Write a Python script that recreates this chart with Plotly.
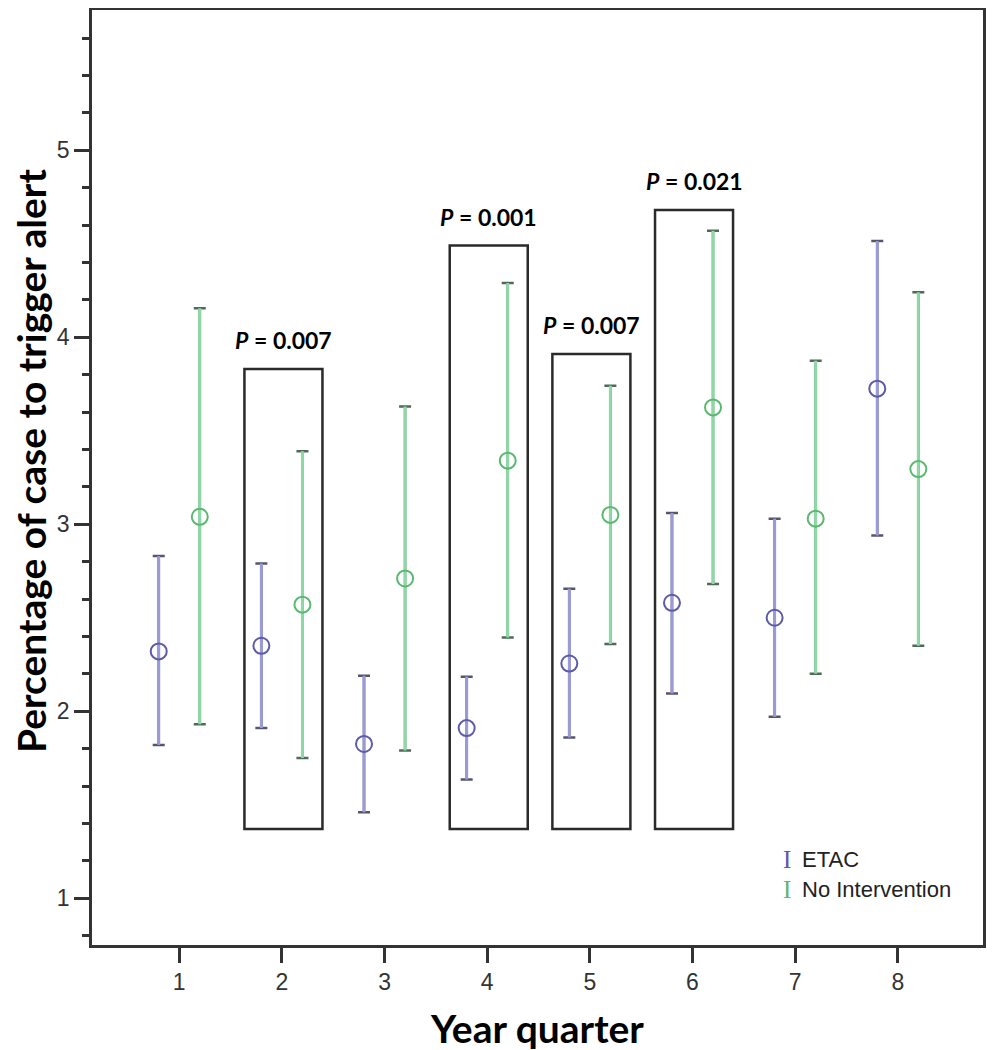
import plotly.graph_objects as go

# ---- data ----
quarters = [1, 2, 3, 4, 5, 6, 7, 8]
etac_mean = [2.32, 2.35, 1.825, 1.91, 2.255, 2.58, 2.50, 3.725]
etac_low = [1.82, 1.91, 1.46, 1.635, 1.86, 2.095, 1.97, 2.94]
etac_high = [2.83, 2.79, 2.19, 2.185, 2.655, 3.06, 3.03, 4.515]
noint_mean = [3.04, 2.57, 2.71, 3.34, 3.05, 3.625, 3.03, 3.295]
noint_low = [1.93, 1.75, 1.79, 2.395, 2.36, 2.68, 2.20, 2.35]
noint_high = [4.155, 3.39, 3.63, 4.29, 3.74, 4.57, 3.875, 4.24]
sig_quarters = [2, 4, 5, 6]
sig_pvalues = ["0.007", "0.001", "0.007", "0.021"]
sig_box_top = [3.83, 4.49, 3.91, 4.68]
sig_box_bottom = 1.37
series_names = ["ETAC", "No Intervention"]
y_ticks = [1, 2, 3, 4, 5]

# ---- styling ----
OFFSET = 0.2
C_ETAC_LINE = "#9a9ad8"
C_ETAC_MARK = "#5b5ba8"
C_ETAC_CAP = "#55556e"
C_NO_LINE = "#8dd9a6"
C_NO_MARK = "#5ab870"
C_NO_CAP = "#4f6b58"

PAGE = 8  # default page margin around the figure
W, H = 994 - PAGE, 1050 - PAGE
L, R, T = 92 - PAGE, 11, 10 - PAGE
B = H - T - 935
pw, ph = W - L - R, H - T - B


def px_x(x):
    return (x - PAGE - L) / pw


def px_y(y):
    return 1 - (y - PAGE - T) / ph


fig = go.Figure()


def add_series(xs, mean, low, high, line_c, mark_c, cap_c, name):
    plus = [h - m for h, m in zip(high, mean)]
    minus = [m - l for m, l in zip(mean, low)]
    fig.add_trace(go.Scatter(
        x=xs, y=mean, mode="markers", marker=dict(size=1, opacity=0),
        error_y=dict(type="data", array=plus, arrayminus=minus, symmetric=False,
                     color=cap_c, thickness=2.5, width=6),
        showlegend=False, hoverinfo="skip"))
    fig.add_trace(go.Scatter(
        x=xs, y=mean, mode="markers", name=name,
        marker=dict(symbol="circle-open", size=16, color=mark_c, line=dict(width=2, color=mark_c)),
        error_y=dict(type="data", array=plus, arrayminus=minus, symmetric=False,
                     color=line_c, thickness=3, width=0),
        showlegend=False))


add_series([q - OFFSET for q in quarters], etac_mean, etac_low, etac_high,
           C_ETAC_LINE, C_ETAC_MARK, C_ETAC_CAP, series_names[0])
add_series([q + OFFSET for q in quarters], noint_mean, noint_low, noint_high,
           C_NO_LINE, C_NO_MARK, C_NO_CAP, series_names[1])

for q, p, top in zip(sig_quarters, sig_pvalues, sig_box_top):
    fig.add_shape(type="rect", x0=q - 0.365, x1=q + 0.395, y0=sig_box_bottom, y1=top,
                  xref="x", yref="y", line=dict(color="#2a2a2a", width=2.5),
                  fillcolor="rgba(0,0,0,0)")
    fig.add_annotation(x=q + 0.015, y=top, xref="x", yref="y", yshift=29,
                       xanchor="center", yanchor="middle",
                       text="<i>P</i> = " + p, showarrow=False,
                       font=dict(family="Lato", size=23, color="black", weight="bold"))

# legend drawn as text, mimicking error bar glyphs
leg_y = [859, 889]
leg_c = [C_ETAC_MARK, C_NO_MARK]
for name, yy, c in zip(series_names, leg_y, leg_c):
    fig.add_annotation(x=px_x(787), y=px_y(yy), xref="paper", yref="paper", text="I", showarrow=False,
                       xanchor="center", yanchor="middle",
                       font=dict(family="Liberation Serif", size=25, color=c))
    fig.add_annotation(x=px_x(800), y=px_y(yy), xref="paper", yref="paper", text=name, showarrow=False,
                       xanchor="left", yanchor="middle",
                       font=dict(family="Liberation Sans", size=22, color="#222"))

# axis titles
fig.add_annotation(x=px_x(537), y=px_y(1028), xref="paper", yref="paper",
                   xanchor="center", yanchor="middle",
                   text="<b>Year quarter</b>", showarrow=False,
                   font=dict(family="Lato", size=39, color="black"))
fig.add_annotation(x=px_x(31), y=px_y(461), xref="paper", yref="paper", textangle=-90,
                   xanchor="center", yanchor="middle",
                   text="<b>Percentage of case to trigger alert</b>", showarrow=False,
                   font=dict(family="Lato", size=39, color="black"))

fig.update_layout(
    width=W, height=H,
    margin=dict(l=L, r=R, t=T, b=B, autoexpand=False),
    plot_bgcolor="white", paper_bgcolor="white",
    showlegend=False,
    xaxis=dict(range=[0.15, 8.83], tickmode="array", tickvals=quarters,
               ticktext=[str(q) for q in quarters], automargin=False,
               ticks="outside", ticklen=15, tickwidth=2.5, tickcolor="#333",
               showline=True, mirror=True, linecolor="#333", linewidth=2.5,
               showgrid=False, zeroline=False,
               tickfont=dict(family="Liberation Sans", size=23, color="#333")),
    yaxis=dict(range=[0.75, 5.75], tickmode="array", tickvals=y_ticks, automargin=False,
               ticks="outside", ticklen=15, tickwidth=2.5, tickcolor="#333",
               minor=dict(dtick=0.2, tick0=0, ticks="outside", ticklen=7, tickwidth=2.5, tickcolor="#333"),
               showline=True, mirror=True, linecolor="#333", linewidth=2.5,
               showgrid=False, zeroline=False,
               tickfont=dict(family="Liberation Sans", size=23, color="#333")),
)

fig.write_html("out.html")
